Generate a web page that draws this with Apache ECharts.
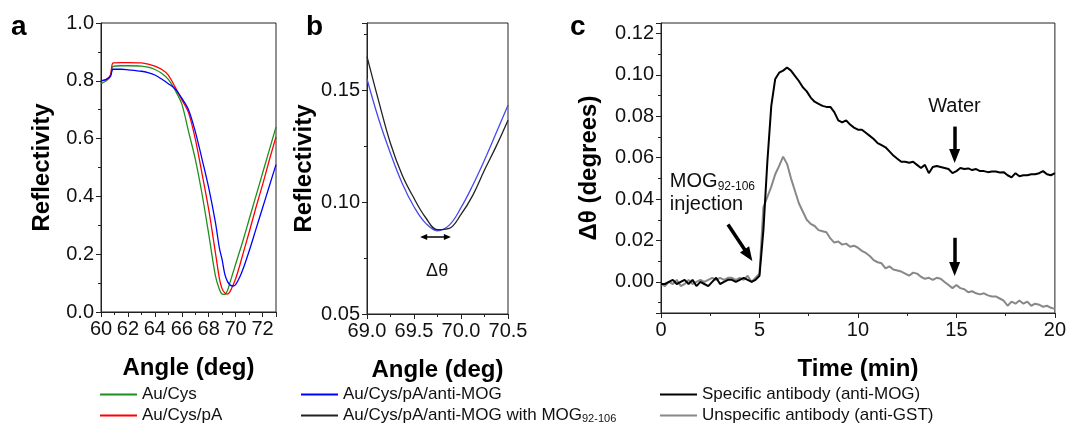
<!DOCTYPE html>
<html>
<head>
<meta charset="utf-8">
<script src="https://cdn.jsdelivr.net/npm/echarts@6/dist/echarts.min.js"></script>
<style>
html, body { margin: 0; padding: 0; background: #fff; }
#main { width: 1069px; height: 427px; }
</style>
</head>
<body>
<div id="main"></div>
<script>
// ---- panel a : SPR curves (angle in deg, reflectivity)
var anglesA = [60, 60.4, 60.7, 60.9, 61.5, 62, 63, 63.5, 64, 64.5, 65, 65.5, 66, 66.5, 67, 67.5,
    68, 68.5, 68.8, 69.0, 69.2, 69.4, 69.6, 69.8, 70.0, 70.3, 70.6, 71, 71.5, 72, 72.5, 73];
var auCys = [0.79, 0.80, 0.815, 0.85, 0.852, 0.852, 0.851, 0.847, 0.839, 0.826, 0.805, 0.768, 0.72, 0.625, 0.53, 0.41,
    0.27, 0.125, 0.078, 0.062, 0.061, 0.075, 0.105, 0.135, 0.165, 0.21, 0.255, 0.32, 0.40, 0.48, 0.56, 0.64];
var auCysPA = [0.80, 0.805, 0.82, 0.862, 0.863, 0.863, 0.862, 0.858, 0.851, 0.84, 0.82, 0.779, 0.735, 0.69, 0.60, 0.48,
    0.355, 0.205, 0.115, 0.08, 0.066, 0.062, 0.072, 0.092, 0.115, 0.16, 0.21, 0.275, 0.36, 0.44, 0.525, 0.606];
var antiMOGa = [0.80, 0.805, 0.815, 0.84, 0.84, 0.838, 0.833, 0.828, 0.82, 0.806, 0.79, 0.772, 0.74, 0.70, 0.625, 0.53,
    0.43, 0.31, 0.22, 0.18, 0.13, 0.105, 0.093, 0.09, 0.095, 0.12, 0.155, 0.21, 0.285, 0.36, 0.435, 0.51];

// ---- panel b : zoom on the minimum
var anglesB = [69.0, 69.125, 69.25, 69.375, 69.5, 69.625, 69.75, 69.875, 70.0, 70.125, 70.25, 70.375, 70.5];
var antiMOGb = [0.155, 0.137, 0.1217, 0.1083, 0.0979, 0.0905, 0.0872, 0.0897, 0.0975, 0.1075, 0.1188, 0.131, 0.1433];
var withMOGb = [0.165, 0.145, 0.1262, 0.112, 0.1017, 0.093, 0.0877, 0.0883, 0.0945, 0.103, 0.1143, 0.125, 0.1366];

// ---- panel c : sensorgram (min, degrees)
var timeMin = [0, 0.2, 0.4, 0.6, 0.8, 1, 1.2, 1.4, 1.6, 1.8, 2, 2.2, 2.4, 2.6, 2.8, 3, 3.2, 3.4, 3.6, 3.8,
    4, 4.2, 4.4, 4.6, 4.8, 5, 5.2, 5.4, 5.6, 5.8, 6, 6.2, 6.4, 6.6, 6.8, 7, 7.2, 7.4, 7.6, 7.8,
    8, 8.2, 8.4, 8.6, 8.8, 9, 9.2, 9.4, 9.6, 9.8, 10, 10.2, 10.4, 10.6, 10.8, 11, 11.2, 11.4, 11.6, 11.8,
    12, 12.2, 12.4, 12.6, 12.8, 13, 13.2, 13.4, 13.6, 13.8, 14, 14.2, 14.4, 14.6, 14.8, 15, 15.2, 15.4, 15.6, 15.8,
    16, 16.2, 16.4, 16.6, 16.8, 17, 17.2, 17.4, 17.6, 17.8, 18, 18.2, 18.4, 18.6, 18.8, 19, 19.2, 19.4, 19.6, 19.8, 20];
var specificAb = [-0.001, -0.001, 0.000, 0.001, -0.001, 0.000, 0.001, -0.001, 0.001, -0.002, 0.000, -0.001, -0.002, 0.000, 0.002,
    -0.001, 0.000, 0.001, 0.001, 0.000, 0.001, 0.002, 0.001, 0.000, 0.001,
    0.003, 0.025, 0.058, 0.085, 0.098, 0.101, 0.102, 0.1035, 0.102, 0.0995, 0.097, 0.094, 0.092, 0.089, 0.087,
    0.086, 0.085, 0.0845, 0.0845, 0.082, 0.078, 0.077, 0.078, 0.076, 0.0745,
    0.0735, 0.0735, 0.072, 0.0705, 0.069, 0.067, 0.066, 0.065, 0.063, 0.061, 0.0595, 0.058, 0.058, 0.0575, 0.058,
    0.0565, 0.055, 0.0565, 0.0525, 0.0555, 0.056, 0.0555, 0.055, 0.0545, 0.0525,
    0.0535, 0.055, 0.0545, 0.0548, 0.054, 0.0545, 0.0535, 0.0535, 0.053, 0.0533, 0.0533, 0.0528, 0.053, 0.0515, 0.0505,
    0.0525, 0.051, 0.0515, 0.0515, 0.052, 0.052, 0.0525, 0.0535, 0.052, 0.0515, 0.0525];
var unspecificAb = [-0.001, -0.002, 0.000, -0.001, 0.001, -0.002, -0.001, 0.001, -0.001, 0.000, 0.001, 0.000, 0.001, 0.002, 0.001,
    0.002, 0.001, 0.002, 0.002, 0.001, 0.002, 0.001, 0.003, 0.000, 0.002,
    0.004, 0.036, 0.041, 0.046, 0.052, 0.056, 0.0605, 0.057, 0.050, 0.044, 0.038, 0.034, 0.030, 0.028, 0.027,
    0.025, 0.0245, 0.024, 0.021, 0.019, 0.0195, 0.018, 0.0185, 0.017, 0.0175,
    0.0165, 0.015, 0.014, 0.0125, 0.0105, 0.0095, 0.009, 0.0065, 0.0075, 0.006, 0.0055, 0.005, 0.004, 0.003, 0.0045,
    0.004, 0.0025, 0.0015, 0.002, 0.001, 0.002, 0.0015, 0.000, -0.0015, -0.003,
    -0.0015, -0.003, -0.0035, -0.005, -0.0045, -0.0055, -0.006, -0.0055, -0.0065, -0.007, -0.007, -0.008, -0.009, -0.0115, -0.0095,
    -0.0105, -0.009, -0.0105, -0.0095, -0.0115, -0.0105, -0.011, -0.012, -0.0115, -0.0125, -0.013];

// annotation anchors, in data units of their panel
var deltaArrow = [[69.603, 0.0844], [69.855, 0.0844]];
var deltaLabelAt = [69.746, 0.0690];
var injectionArrow = [[3.40, 0.0277], [4.44, 0.0129]];
var waterArrowTop = [[14.91, 0.075], [14.91, 0.0608]];
var waterArrowLow = [[14.91, 0.0213], [14.91, 0.0063]];
var waterLabelAt = [14.9, 0.0845];
var injectionLabelAt = [0.45, 0.0429];

var WITH_MOG = 'Au/Cys/pA/anti-MOG with MOG92-106';
var FONT = "'Liberation Sans', Arial, sans-serif";

function pairs(xs, ys) {
    return xs.map(function (x, i) { return [x, ys[i]]; });
}

function valueAxis(gridIndex, o) {
    var ax = {
        type: 'value',
        gridIndex: gridIndex,
        min: o.min,
        max: o.max,
        axisLine: { show: true, onZero: false, lineStyle: { color: '#222', width: 1 } },
        axisTick: { show: true, length: 5, lineStyle: { color: '#222' } },
        minorTick: { show: true, splitNumber: 2, length: 3, lineStyle: { color: '#222' } },
        splitLine: { show: false },
        axisLabel: {
            color: '#111', fontSize: 20, fontFamily: FONT, margin: 7,
            showMinLabel: o.showMin !== false, showMaxLabel: o.showMax !== false,
            formatter: function (v) { return o.digits == null ? String(v) : v.toFixed(o.digits); }
        },
        name: o.name,
        nameLocation: 'middle',
        nameGap: o.nameGap,
        nameTextStyle: { fontSize: 24, fontWeight: 'bold', color: '#000', fontFamily: FONT }
    };
    if (o.interval != null) ax.interval = o.interval;
    if (o.fixedStep != null) { ax.minInterval = o.fixedStep; ax.maxInterval = o.fixedStep; }
    return ax;
}

function legendBox(left, names) {
    return {
        data: names, left: left, top: 386, orient: 'vertical', padding: 0,
        icon: 'rect', itemWidth: 37, itemHeight: 2, itemGap: 4,
        selectedMode: false,
        textStyle: {
            fontSize: 17, lineHeight: 17, color: '#111', fontFamily: FONT,
            rich: { sub: { fontSize: 11, lineHeight: 9, verticalAlign: 'bottom', color: '#111', fontFamily: FONT } }
        },
        formatter: function (name) {
            if (name === WITH_MOG) return 'Au/Cys/pA/anti-MOG with MOG{sub|92-106}';
            return name;
        }
    };
}

function arrowMark(lines, width, size, both) {
    return {
        silent: true,
        animation: false,
        symbol: [both ? 'triangle' : 'none', 'triangle'],
        symbolSize: size,
        lineStyle: { color: '#000', width: width, type: 'solid' },
        label: { show: false },
        emphasis: { disabled: true },
        data: lines.map(function (l) { return [{ coord: l[0] }, { coord: l[1] }]; })
    };
}

var chart = echarts.init(document.getElementById('main'));

var letterStyle = { fontSize: 28, fontWeight: 'bold', color: '#000', fontFamily: FONT };
var option = {
    backgroundColor: '#fff',
    animation: false,
    textStyle: { fontFamily: FONT },
    title: [
        { text: 'a', left: 11, top: 13, padding: 0, textStyle: letterStyle },
        { text: 'b', left: 306, top: 13, padding: 0, textStyle: letterStyle },
        { text: 'c', left: 570, top: 13, padding: 0, textStyle: letterStyle }
    ],
    legend: [
        legendBox(100, ['Au/Cys', 'Au/Cys/pA']),
        legendBox(301, ['Au/Cys/pA/anti-MOG', WITH_MOG]),
        legendBox(660, ['Specific antibody (anti-MOG)', 'Unspecific antibody (anti-GST)'])
    ],
    grid: [
        { left: 101, top: 23, width: 175, height: 289, show: true, borderColor: '#222', borderWidth: 1, containLabel: false },
        { left: 367, top: 23, width: 141, height: 291, show: true, borderColor: '#222', borderWidth: 1, containLabel: false },
        { left: 661, top: 23, width: 396, height: 290, show: true, borderColor: '#222', borderWidth: 1, containLabel: false }
    ],
    xAxis: [
        valueAxis(0, { min: 60, max: 73, interval: 2, showMax: false, name: 'Angle (deg)', nameGap: 44 }),
        valueAxis(1, { min: 69, max: 70.5, interval: 0.5, digits: 1, name: 'Angle (deg)', nameGap: 44 }),
        valueAxis(2, { min: 0, max: 20, interval: 5, name: 'Time (min)', nameGap: 44 })
    ],
    yAxis: [
        valueAxis(0, { min: 0, max: 1, interval: 0.2, digits: 1, name: 'Reflectivity', nameGap: 47 }),
        valueAxis(1, { min: 0.05, max: 0.18, interval: 0.05, digits: 2, showMax: false, name: 'Reflectivity', nameGap: 51 }),
        valueAxis(2, { min: -0.015, max: 0.125, fixedStep: 0.02, digits: 2, showMin: false, showMax: false, name: 'Δθ (degrees)', nameGap: 60 })
    ],
    series: [
        { name: 'Au/Cys', type: 'line', xAxisIndex: 0, yAxisIndex: 0, data: pairs(anglesA, auCys),
          color: '#1f8f1f', symbol: 'none', smooth: 0.3, lineStyle: { width: 1.3 } },
        { name: 'Au/Cys/pA', type: 'line', xAxisIndex: 0, yAxisIndex: 0, data: pairs(anglesA, auCysPA),
          color: '#ff0000', symbol: 'none', smooth: 0.3, lineStyle: { width: 1.3 } },
        { name: 'Au/Cys/pA/anti-MOG', type: 'line', xAxisIndex: 0, yAxisIndex: 0, data: pairs(anglesA, antiMOGa),
          color: '#0000ff', symbol: 'none', smooth: 0.3, lineStyle: { width: 1.3 } },
        { name: 'Au/Cys/pA/anti-MOG', type: 'line', xAxisIndex: 1, yAxisIndex: 1, data: pairs(anglesB, antiMOGb),
          color: '#4848f0', symbol: 'none', smooth: 0.4, lineStyle: { width: 1.3 } },
        { name: WITH_MOG, type: 'line', xAxisIndex: 1, yAxisIndex: 1, data: pairs(anglesB, withMOGb),
          color: '#222222', symbol: 'none', smooth: 0.4, lineStyle: { width: 1.3 },
          markLine: arrowMark([deltaArrow], 1.5, [6, 7], true) },
        { name: 'Unspecific antibody (anti-GST)', type: 'line', xAxisIndex: 2, yAxisIndex: 2, data: pairs(timeMin, unspecificAb),
          color: '#888888', symbol: 'none', lineStyle: { width: 2 } },
        { name: 'Specific antibody (anti-MOG)', type: 'line', xAxisIndex: 2, yAxisIndex: 2, data: pairs(timeMin, specificAb),
          color: '#000000', symbol: 'none', lineStyle: { width: 2 },
          markLine: arrowMark([injectionArrow, waterArrowTop, waterArrowLow], 3.5, [11, 14], false) }
    ]
};
chart.setOption(option);

// text notes placed from data coordinates
function at(panel, pt) {
    return chart.convertToPixel({ xAxisIndex: panel, yAxisIndex: panel }, pt);
}
var pInj = at(2, injectionLabelAt);
var pWater = at(2, waterLabelAt);
var pDelta = at(1, deltaLabelAt);
chart.setOption({
    graphic: [
        { type: 'text', x: pInj[0], y: pInj[1], silent: true,
          style: { text: '{m|MOG}{s|92-106}\n{m|injection}', align: 'left', verticalAlign: 'middle', fill: '#111', fontFamily: FONT,
                   rich: { m: { fontSize: 20, lineHeight: 23, fontFamily: FONT, color: '#111' },
                           s: { fontSize: 12, lineHeight: 14, verticalAlign: 'bottom', fontFamily: FONT, color: '#111' } } } },
        { type: 'text', x: pWater[0], y: pWater[1], silent: true,
          style: { text: 'Water', align: 'center', verticalAlign: 'middle', fill: '#111', fontSize: 20, fontFamily: FONT } },
        { type: 'text', x: pDelta[0], y: pDelta[1], silent: true,
          style: { text: 'Δθ', align: 'center', verticalAlign: 'middle', fill: '#111', fontSize: 18, fontFamily: FONT } }
    ]
});
</script>
</body>
</html>
